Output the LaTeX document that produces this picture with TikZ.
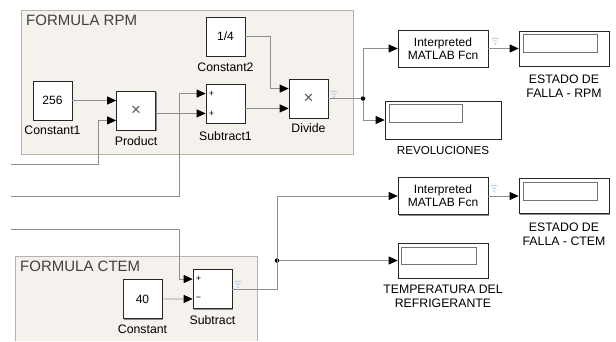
\documentclass[tikz,border=0pt]{standalone}
\usepackage{fontspec}
\setmainfont{Liberation Sans}
\usetikzlibrary{positioning,arrows.meta,shadows,calc}

\definecolor{areafill}{HTML}{F5F1EC}
\definecolor{areaedge}{HTML}{B9B2AB}
\definecolor{wirec}{HTML}{8E8E8E}
\definecolor{sigblue}{HTML}{A9C9E8}

% little signal mark next to an output port
\newcommand{\sigmark}[1]{%
  \fill[sigblue] (#1) circle (1);
  \draw[sigblue, line width=0.8pt] (#1) ++(235:3.2) arc (235:305:3.2);
  \draw[sigblue, line width=0.8pt] (#1) ++(235:6) arc (235:305:6);
}

\begin{document}
\begin{tikzpicture}[x=1pt, y=-1pt,
  blk/.style={draw=black!85, fill=white, line width=0.7pt, inner sep=0,
    minimum width=39, minimum height=39, font=\fontsize{12}{14}\selectfont,
    drop shadow={shadow xshift=1pt, shadow yshift=-1pt, fill=black!45, opacity=1}},
  fcnbox/.style={blk, minimum width=90, minimum height=37, align=center,
    font=\fontsize{12}{13}\selectfont},
  scopebox/.style={blk, minimum width=90, minimum height=35},
  scopein/.style={draw=black!55, fill=white, line width=0.6pt, inner sep=0,
    minimum width=74, minimum height=18},
  lbl/.style={inner sep=0, font=\fontsize{12.3}{14}\selectfont, align=center},
  sgn/.style={inner sep=0, font=\fontsize{9}{9}\selectfont},
  mult/.style={text=black!65, font=\fontsize{17}{17}\selectfont},
  areatitle/.style={inner sep=0, anchor=west, text=black!75,
    font=\fontsize{15}{15}\selectfont},
  wire/.style={draw=wirec, line width=0.8pt,
    -{Triangle[length=9pt, width=8pt, black]}},
  plainwire/.style={draw=wirec, line width=0.8pt},
  junc/.style={circle, fill=black, inner sep=0, minimum size=4.5pt}
  ]
  \useasboundingbox (0,0) rectangle (616,341);

  % subsystem areas
  \fill[areafill] (21,10) rectangle (353,154);
  \draw[areaedge, line width=0.8pt] (21,10) rectangle (353,154);
  \fill[areafill] (15,256) rectangle (257,341);
  \draw[areaedge, line width=0.8pt] (15,341) |- (257,256) -- (257,341);
  \node[areatitle] (rpmtitle) at (26,20) {FORMULA RPM};
  \node[areatitle] (ctemtitle) at (20,266) {FORMULA CTEM};

  % FORMULA RPM blocks
  \node[blk] (const2) at (225.5,36.5) {1/4};
  \node[blk] (const1) at (52.5,100.5) {256};
  \node[blk] (prod) at (136,110.5) {};
  \node[mult] (prodx) at (prod) {×};
  \node[blk] (sub1) at (225.5,103.5) {};
  \node[blk] (div) at (308.5,98.5) {};
  \node[mult] (divx) at (div) {×};

  \node[lbl] (const2lbl) at (225.5,67) {Constant2};
  \node[lbl] (const1lbl) at (52.5,130) {Constant1};
  \node[lbl] (prodlbl) at (136,141) {Product};
  \node[lbl] (sub1lbl) at (225.5,136) {Subtract1};
  \node[lbl] (divlbl) at (308.5,128) {Divide};

  % ports
  \coordinate (prodin1) at ($(prod.west)!0.5!(prod.north west)$);
  \coordinate (prodin2) at ($(prod.west)!0.5!(prod.south west)$);
  \coordinate (sub1in1) at ($(sub1.west)!0.5!(sub1.north west)$);
  \coordinate (sub1in2) at ($(sub1.west)!0.5!(sub1.south west)$);
  \coordinate (divin1) at ($(div.west)!0.5!(div.north west)$);
  \coordinate (divin2) at ($(div.west)!0.5!(div.south west)$);
  \node[sgn, right=3pt of sub1in1] (sub1s1) {+};
  \node[sgn, right=3pt of sub1in2] (sub1s2) {+};

  % outputs on the right
  \node[fcnbox] (fcn1) at (443,48.5) {Interpreted\\MATLAB Fcn};
  \node[scopebox] (est1) at (564,48.5) {};
  \node[scopein, below right=3pt and 4pt of est1.north west] (est1in) {};
  \node[lbl] (est1lbl) at (564,86.5) {ESTADO DE\\FALLA - RPM};
  \node[scopebox, minimum width=116, minimum height=38] (rev) at (443,120) {};
  \node[scopein, minimum width=73, below right=3pt and 4pt of rev.north west] (revin) {};
  \node[lbl, font=\fontsize{11.6}{14}\selectfont] (revlbl) at (443,151) {REVOLUCIONES};

  % FORMULA CTEM blocks
  \node[blk] (const) at (142.5,299) {40};
  \node[blk] (sub) at (212.5,289) {};
  \node[lbl] (constlbl) at (142.5,329) {Constant};
  \node[lbl] (sublbl) at (212.5,320) {Subtract};
  \coordinate (subin1) at ($(sub.west)!0.5!(sub.north west)$);
  \coordinate (subin2) at ($(sub.west)!0.5!(sub.south west)$);
  \node[sgn, right=3pt of subin1] (subs1) {+};
  \node[sgn, right=3pt of subin2] (subs2) {−};

  \node[fcnbox] (fcn2) at (443,196) {Interpreted\\MATLAB Fcn};
  \node[scopebox] (est2) at (564,196) {};
  \node[scopein, below right=4pt and 4pt of est2.north west] (est2in) {};
  \node[lbl] (est2lbl) at (564,234) {ESTADO DE\\FALLA - CTEM};
  \node[scopebox] (temp) at (443,260.5) {};
  \node[scopein, minimum width=75, minimum height=17,
    below right=4pt and 3pt of temp.north west] (tempin) {};
  \node[lbl] (templbl) at (443,296.5) {TEMPERATURA DEL\\REFRIGERANTE};

  % junctions and bends
  \node[junc] (dot1) at (363,98.5) {};
  \node[junc] (dot2) at (277,260.5) {};
  \coordinate (srcA) at (11,164);
  \coordinate (bendA) at (98,164);
  \coordinate (srcB) at (11,196);
  \coordinate (bendB) at (179,196);
  \coordinate (srcC) at (11,229);
  \coordinate (bendC) at (179,229);
  \coordinate (bendD) at (270,36.5);
  \coordinate (bendE) at (277,196);

  % connectors
  \draw[wire] (const1.east) -- (const1.east -| prodin1);
  \draw[wire] (srcA) -- (bendA) |- (prodin2);
  \draw[wire] (prod.east |- sub1in2) -- (sub1in2);
  \draw[wire] (srcB) -- (bendB) |- (sub1in1);
  \draw[wire] (const2.east) -- (bendD) |- (divin1);
  \draw[wire] (sub1.east |- divin2) -- (divin2);
  \draw[plainwire] (div.east) -- (dot1);
  \draw[wire] (dot1) |- (fcn1.west);
  \draw[wire] (dot1) |- (rev.west);
  \draw[wire] (fcn1.east) -- (est1.west);

  \draw[wire] (srcC) -- (bendC) |- (subin1);
  \draw[wire] (const.east) -- (subin2);
  \draw[wire] (sub.east) -| (bendE) -- (fcn2.west);
  \draw[wire] (dot2) -- (temp.west);
  \draw[wire] (fcn2.east) -- (est2.west);

  \sigmark{334,97}
  \sigmark{495,44}
  \sigmark{494,191}
  \sigmark{238,287}
\end{tikzpicture}
\end{document}
